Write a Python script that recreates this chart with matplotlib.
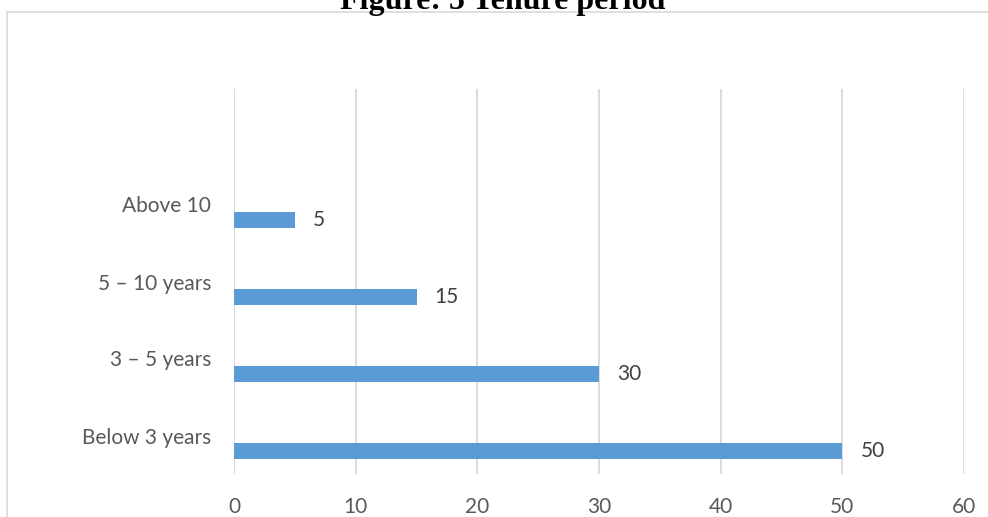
import matplotlib
matplotlib.use("Agg")
import matplotlib.pyplot as plt
from matplotlib.patches import Rectangle

# tenure categories, bottom to top
categories = ["Below 3 years", "3 \u2013 5 years", "5 \u2013 10 years", "Above 10"]
counts = [50, 30, 15, 5]
x_ticks = [0, 10, 20, 30, 40, 50, 60]

BAR = "#5B9BD5"
GRID = "#D9D9D9"
TEXT = "#595959"

plt.rcParams["font.family"] = ["Lato", "DejaVu Sans"]

fig = plt.figure(figsize=(9.88, 5.17), dpi=100)
W, H = 988, 517

# chart frame, runs off the right and bottom edges
fig.patches.append(Rectangle((7 / W, -0.05), 1.1, 1 - 11.5 / H + 0.05,
                             transform=fig.transFigure, fill=False,
                             edgecolor=GRID, linewidth=1.2))

fig.text(503 / W, 1 - 9 / H, "Figure: 5 Tenure period", ha="center",
         va="baseline", fontsize=23, fontweight="bold",
         family="Liberation Serif", color="black")

ax = fig.add_axes([234 / W, 1 - 474 / H, (964 - 234) / W, (474 - 89) / H])

pos = list(range(len(categories)))
offset = 0.2
bars = ax.barh([p - offset for p in pos], counts, height=0.21, color=BAR,
               zorder=3)
for b, v in zip(bars, counts):
    ax.text(v + 1.5, b.get_y() + b.get_height() / 2, str(v), va="center",
            ha="left", fontsize=15, color="#404040")

ax.set_xlim(0, 60)
ax.set_ylim(-0.5, len(categories) + 0.5)
ax.set_xticks(x_ticks)
ax.set_xticklabels([str(t) for t in x_ticks])
ax.set_yticks(pos)
ax.set_yticklabels(categories)
ax.tick_params(axis="both", length=0, labelsize=15, colors=TEXT)
ax.tick_params(axis="x", pad=16.5)
ax.tick_params(axis="y", pad=16.5)
ax.grid(axis="x", color=GRID, linewidth=1.3, zorder=0)
for s in ax.spines.values():
    s.set_visible(False)

fig.savefig("out.png", dpi=100)
